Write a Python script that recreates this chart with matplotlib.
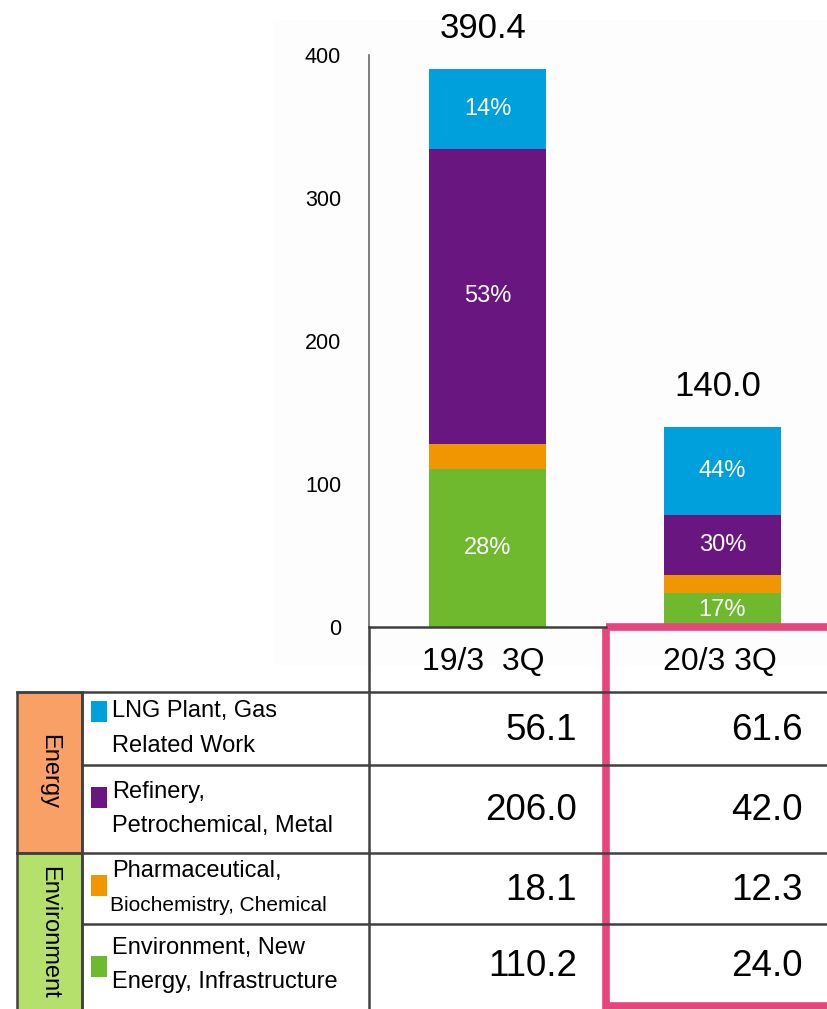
import numpy as np
import matplotlib.pyplot as plt
from matplotlib.patches import Rectangle

plt.rcParams['font.family'] = ['Liberation Sans', 'DejaVu Sans']

# order-received breakdown by segment (billion yen)
periods = ["19/3  3Q", "20/3 3Q"]
lng = [56.1, 61.6]
refinery = [206.0, 42.0]
pharma = [18.1, 12.3]
environment = [110.2, 24.0]
totals = [390.4, 140.0]
yticks = [0, 100, 200, 300, 400]

row_names = [("LNG Plant, Gas", "Related Work"),
             ("Refinery,", "Petrochemical, Metal"),
             ("Pharmaceutical,", "Biochemistry, Chemical"),
             ("Environment, New", "Energy, Infrastructure")]
groups = ["Energy", "Environment"]

C_LNG = "#00A0DC"
C_REF = "#6A1681"
C_PHA = "#F29600"
C_ENV = "#6EB92D"
LINE = "#404040"
PINK = "#E6467D"

W, H = 827, 1009
fig = plt.figure(figsize=(W / 100, H / 100), dpi=100)

# faint backdrop behind the chart
back = fig.add_axes([0, 0, 1, 1], zorder=0)
back.set_xlim(0, W)
back.set_ylim(H, 0)
back.axis('off')
back.add_patch(Rectangle((273, 20), W - 273, 645, facecolor="#fdfdfd", edgecolor="none"))

# stacked bars
y0, y400 = 627, 55
ax = fig.add_axes([369 / W, (H - y0) / H, (W - 369) / W, (y0 - y400) / H], zorder=1)
ax.patch.set_alpha(0)
x = np.arange(len(periods))
ax.set_xlim(-(487.5 - 369) / 235, 1 + (W - 722.5) / 235)
ax.set_ylim(0, 400)

stack = [(environment, C_ENV), (pharma, C_PHA), (refinery, C_REF), (lng, C_LNG)]
bottom = np.zeros(len(periods))
for vals, col in stack:
    vals = np.array(vals)
    ax.bar(x, vals, bottom=bottom, width=117 / 235, color=col, edgecolor="none")
    for i, v in enumerate(vals):
        share = v / totals[i]
        if share >= 0.1:
            ax.text(x[i], bottom[i] + v / 2, f"{share * 100:.0f}%", ha='center', va='center',
                    color='white', fontsize=17)
    bottom += vals

for i, t in enumerate(totals):
    ax.annotate(f"{t:.1f}", (x[i] - 0.02, t), xytext=(0, 17), textcoords='offset points',
                ha='center', va='bottom', fontsize=25, annotation_clip=False)

ax.set_yticks(yticks)
ax.set_xticks([])
ax.tick_params(axis='y', length=0, pad=20)
for lab in ax.get_yticklabels():
    lab.set_fontsize(15.5)
for s in ['top', 'right', 'bottom']:
    ax.spines[s].set_visible(False)
ax.spines['left'].set_color('#666666')
ax.spines['left'].set_linewidth(1.2)

# table below the bars
tab = fig.add_axes([0, 0, 1, 1], zorder=2)
tab.patch.set_alpha(0)
tab.set_xlim(0, W)
tab.set_ylim(H, 0)
tab.axis('off')

lw = 1.8
row_edges = [692, 765, 853, 924, 1015]
tab.plot([369, 606], [y0, y0], color=LINE, lw=lw)
tab.plot([369, 369], [y0, H + 5], color=LINE, lw=lw)
for k, ye in enumerate(row_edges[:-1]):
    tab.plot([17 if k % 2 == 0 else 82, W + 5], [ye, ye], color=LINE, lw=lw)

tab.add_patch(Rectangle((17, 692), 65, 853 - 692, facecolor="#F9A066", edgecolor=LINE, lw=lw))
tab.add_patch(Rectangle((17, 853), 65, 1015 - 853, facecolor="#B5E06B", edgecolor=LINE, lw=lw))
tab.text(49, 772, groups[0], rotation=270, ha='center', va='center', fontsize=17)
tab.text(49, 932, groups[1], rotation=270, ha='center', va='center', fontsize=17)
tab.plot([82, 82], [692, H + 5], color=LINE, lw=lw)

# period headers
tab.text(483, 662, periods[0], ha='center', va='center', fontsize=23)
tab.text(720, 662, periods[1], ha='center', va='center', fontsize=23)

row_cols = [C_LNG, C_REF, C_PHA, C_ENV]
sq_y = [711, 797, 885, 966]
second_size = [17, 17, 15, 17]
cols = [lng, refinery, pharma, environment]
for r in range(4):
    top, bot = row_edges[r], min(row_edges[r + 1], 1006)
    yc = (top + bot) / 2
    tab.add_patch(Rectangle((91, sq_y[r] - 10.5), 16, 21, facecolor=row_cols[r], edgecolor='none'))
    tab.text(112, yc - 17, row_names[r][0], ha='left', va='center', fontsize=17)
    tab.text(110 if second_size[r] < 17 else 112, yc + 17, row_names[r][1],
             ha='left', va='center', fontsize=second_size[r])
    tab.text(577, yc + 2, f"{cols[r][0]:.1f}", ha='right', va='center', fontsize=26.5)
    tab.text(803, yc + 2, f"{cols[r][1]:.1f}", ha='right', va='center', fontsize=26.5)

# highlight frame around the latest period
tab.add_patch(Rectangle((606, 627), W - 606 + 20, 1006 - 627, fill=False,
                        edgecolor=PINK, lw=5.5))

fig.savefig("out.png", dpi=100)
